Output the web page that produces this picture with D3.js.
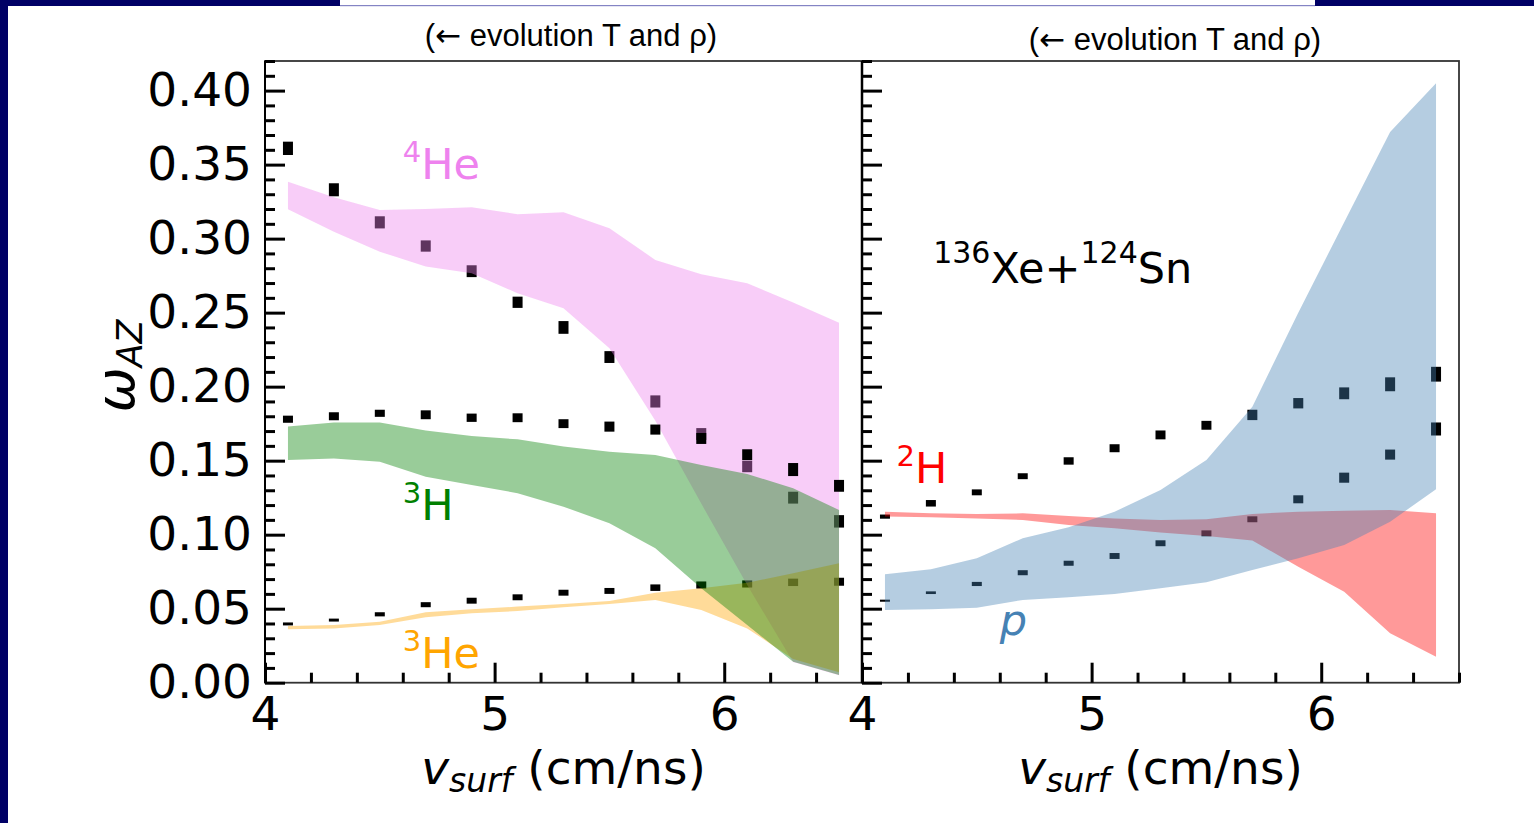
<!DOCTYPE html>
<html><head><meta charset="utf-8">
<script src="https://cdn.jsdelivr.net/npm/d3@7"></script>
<style>html,body{margin:0;padding:0;background:#fff;} svg{display:block;}</style>
</head><body>
<svg id="c" width="1534" height="823"></svg>
<script>
// ---------------- data ----------------
const vsurf = [4.1,4.3,4.5,4.7,4.9,5.1,5.3,5.5,5.7,5.9,6.1,6.3,6.5];

// left panel: experimental points (value, half-height uncertainty)
const he4Val = [0.361,0.333,0.311,0.295,0.278,0.257,0.240,0.220,0.190,0.168,0.146,0.125,0.109];
const he4Err = [0.0045,0.0044,0.0041,0.0038,0.004,0.0038,0.0043,0.004,0.0041,0.004,0.0038,0.004,0.0042];
const h3Val  = [0.178,0.180,0.182,0.181,0.179,0.179,0.175,0.173,0.171,0.165,0.154,0.144,0.133];
const h3Err  = [0.0024,0.0027,0.0024,0.003,0.0028,0.003,0.003,0.0034,0.0034,0.0037,0.0037,0.0044,0.004];
const he3Val = [0.0397,0.0423,0.0462,0.0527,0.0554,0.0577,0.0608,0.062,0.0642,0.066,0.0667,0.0678,0.0682];
const he3Err = [0.001,0.001,0.0014,0.0017,0.002,0.002,0.002,0.002,0.0022,0.0024,0.0024,0.0025,0.0027];

// left panel: model bands
const he4Hi = [0.3385,0.328,0.3194,0.320,0.3212,0.3165,0.3178,0.307,0.2856,0.276,0.2699,0.2568,0.2432];
const he4Lo = [0.3199,0.3047,0.2912,0.2811,0.2766,0.2631,0.253,0.2259,0.177,0.121,0.066,0.014,0.005];
const h3Hi  = [0.173,0.1757,0.1757,0.1703,0.1667,0.1644,0.1595,0.1561,0.1539,0.1471,0.141,0.1313,0.1167];
const h3Lo  = [0.1505,0.1514,0.1493,0.1392,0.1336,0.128,0.1189,0.1077,0.0908,0.0638,0.039,0.0142,0.0052];
const he3Hi = [0.0383,0.039,0.0412,0.0476,0.0496,0.0514,0.0532,0.0552,0.0608,0.0638,0.0676,0.0739,0.0807];
const he3Lo = [0.0361,0.0367,0.039,0.0442,0.0469,0.0484,0.0509,0.0532,0.0559,0.0491,0.0367,0.016,0.007];

// right panel: experimental points
const h2Val = [0.1122,0.1212,0.1286,0.1395,0.1498,0.1584,0.1674,0.1739,0.1809,0.1888,0.1955,0.2016,0.2084];
const h2Err = [0.0014,0.0022,0.002,0.002,0.0025,0.0027,0.003,0.003,0.0035,0.0035,0.004,0.0047,0.005];
const pVal  = [0.0554,0.0608,0.0667,0.0743,0.0807,0.0856,0.0942,0.1009,0.1104,0.1239,0.1385,0.1541,0.1714];
const pErr  = [0.0007,0.0009,0.0014,0.0017,0.0017,0.002,0.002,0.002,0.002,0.0027,0.0034,0.0034,0.0044];

// right panel: model bands
const pHi  = [0.0732,0.0766,0.084,0.0976,0.105,0.1155,0.1302,0.1505,0.1865,0.250,0.311,0.372,0.405];
const pLo  = [0.0491,0.0496,0.0507,0.0559,0.0577,0.0599,0.0638,0.0678,0.0761,0.084,0.093,0.1088,0.1307];
const h2Hi = [0.1155,0.1144,0.114,0.1144,0.1126,0.111,0.1099,0.1104,0.114,0.1155,0.1162,0.1167,0.1144];
const h2Lo = [0.1122,0.1118,0.111,0.1099,0.1066,0.1043,0.1014,0.0991,0.096,0.0784,0.0615,0.0334,0.0176];

// axes ticks
const xMajor = [4,5,6];
const xMinor = [4.2,4.4,4.6,4.8,5.2,5.4,5.6,5.8,6.2,6.4,6.6];
const yMajor = [0,0.05,0.10,0.15,0.20,0.25,0.30,0.35,0.40];
const yMinor = d3.range(0,43).map(i=>i/100).filter(v=>Math.round(v*100)%5!==0);

const titleParts = ["(", "\u2190", " evolution T and \u03c1)"];

// ---------------- drawing ----------------
const svg = d3.select("#c");
const FONT = "'DejaVu Sans', sans-serif";

// frame decoration
svg.append("rect").attr("x",0).attr("y",0).attr("width",8).attr("height",823).attr("fill","#000066");
svg.append("rect").attr("x",0).attr("y",0).attr("width",340).attr("height",6).attr("fill","#000066");
svg.append("rect").attr("x",1315).attr("y",0).attr("width",219).attr("height",6).attr("fill","#000066");
svg.append("rect").attr("x",340).attr("y",5).attr("width",975).attr("height",1.2).attr("fill","#8484c4");

const y = d3.scaleLinear().domain([0,0.42]).range([682.7,61]);
const xL = d3.scaleLinear().domain([4,6.6]).range([265,862]);
const xR = d3.scaleLinear().domain([4,6.6]).range([862,1459]);

function markers(g, x, vals, errs){
  g.selectAll(null).data(vals.map((v,i)=>({x:vsurf[i],v,e:errs[i]}))).enter()
   .append("rect")
   .attr("x",d=>x(d.x)-5).attr("width",10)
   .attr("y",d=>y(d.v+d.e))
   .attr("height",d=>Math.max(y(d.v-d.e)-y(d.v+d.e),2))
   .attr("fill","#000");
}
function band(g, x, lo, hi, color){
  const area = d3.area().x(d=>x(d.x)).y0(d=>y(d.lo)).y1(d=>y(d.hi));
  g.append("path").datum(vsurf.map((v,i)=>({x:v,lo:lo[i],hi:hi[i]})))
   .attr("d",area).attr("fill",color).attr("fill-opacity",0.4);
}

// ---- left panel
const gL = svg.append("g");
markers(gL, xL, he4Val, he4Err);
markers(gL, xL, he3Val, he3Err);
band(gL, xL, he4Lo, he4Hi, "violet");
band(gL, xL, he3Lo, he3Hi, "orange");
markers(gL, xL, h3Val, h3Err);
band(gL, xL, h3Lo, h3Hi, "green");

// ---- right panel
const gR = svg.append("g");
markers(gR, xR, h2Val, h2Err);
markers(gR, xR, pVal, pErr);
band(gR, xR, h2Lo, h2Hi, "red");
band(gR, xR, pLo, pHi, "steelblue");

// ---- spines
function frame(x0,x1){
  svg.append("rect").attr("x",x0).attr("y",y(0.42)).attr("width",x1-x0).attr("height",y(0)-y(0.42))
    .attr("fill","none").attr("stroke","#333").attr("stroke-width",1.8);
}
frame(265,862); frame(862,1459);

// ---- axes
function styleAxis(g){
  g.select(".domain").remove();
  g.selectAll(".tick line").attr("stroke","#000").attr("stroke-width",3);
  g.selectAll(".tick text").attr("font-family",FONT).attr("font-size",47).attr("fill","#000");
}
function xAxes(x){
  const a = svg.append("g").attr("transform",`translate(0,${y(0)})`)
    .call(d3.axisBottom(x).tickValues(xMajor).tickSizeInner(-20).tickSizeOuter(0).tickPadding(14).tickFormat(d3.format("d")));
  styleAxis(a);
  const b = svg.append("g").attr("transform",`translate(0,${y(0)})`)
    .call(d3.axisBottom(x).tickValues(xMinor).tickSizeInner(-10).tickSizeOuter(0).tickFormat(""));
  styleAxis(b);
}
xAxes(xL); xAxes(xR);

function yAxes(x0, labels){
  const a = svg.append("g").attr("transform",`translate(${x0},0)`)
    .call(d3.axisLeft(y).tickValues(yMajor).tickSizeInner(-20).tickSizeOuter(0).tickPadding(13)
      .tickFormat(labels ? d3.format(".2f") : ""));
  styleAxis(a);
  const b = svg.append("g").attr("transform",`translate(${x0},0)`)
    .call(d3.axisLeft(y).tickValues(yMinor).tickSizeInner(-10).tickSizeOuter(0).tickFormat(""));
  styleAxis(b);
}
yAxes(265, true); yAxes(862, false);
// y spines darker
svg.append("line").attr("x1",265).attr("x2",265).attr("y1",y(0.42)).attr("y2",y(0)).attr("stroke","#000").attr("stroke-width",2);
svg.append("line").attr("x1",862).attr("x2",862).attr("y1",y(0.42)).attr("y2",y(0)).attr("stroke","#000").attr("stroke-width",2.5);

// ---- axis labels
function xLabel(cx){
  const t = svg.append("text").attr("x",cx).attr("y",784).attr("text-anchor","middle")
    .attr("font-family",FONT).attr("font-size",47).attr("fill","#000");
  t.append("tspan").attr("font-style","italic").text("v");
  t.append("tspan").attr("font-style","italic").attr("font-size",33).attr("dy",8).text("surf");
  t.append("tspan").attr("dy",-8).text(" (cm/ns)");
}
xLabel((265+862)/2); xLabel((862+1459)/2);

const yl = svg.append("text").attr("transform","translate(134,366) rotate(-90)").attr("text-anchor","middle")
  .attr("font-family",FONT).attr("font-size",54).attr("fill","#000");
yl.append("tspan").attr("font-style","italic").text("\u03c9");
yl.append("tspan").attr("font-style","italic").attr("font-size",35).attr("dy",8).text("AZ");

// ---- titles
function title(cx, by){
  const t = svg.append("text").attr("x",cx).attr("y",by).attr("text-anchor","middle")
    .attr("font-family","'Liberation Sans', Arial, sans-serif").attr("font-size",31).attr("fill","#000");
  t.append("tspan").text(titleParts[0]);
  t.append("tspan").attr("font-family","'DejaVu Sans', sans-serif").attr("font-size",31).text(titleParts[1]);
  t.append("tspan").text(titleParts[2]);
}
title(571, 46);
title(1175, 50);

// ---- annotations
function isoLabel(x, vx, vy, sup, main, color, italic){
  const t = svg.append("text").attr("x",x(vx)).attr("y",y(vy))
    .attr("font-family",FONT).attr("font-size",43).attr("fill",color);
  if(sup){
    t.append("tspan").attr("font-size",29).attr("dy",-17).text(sup);
    t.append("tspan").attr("dy",17).text(main);
  } else {
    t.append("tspan").attr("font-style",italic?"italic":"normal").text(main);
  }
  return t;
}
isoLabel(xL, 4.6, 0.34, "4", "He", "violet");
isoLabel(xL, 4.6, 0.11, "3", "H", "green");
isoLabel(xL, 4.6, 0.01, "3", "He", "orange");
isoLabel(xR, 4.15, 0.135, "2", "H", "red");
isoLabel(xR, 4.6, 0.032, null, "p", "steelblue", true);

const rx = svg.append("text").attr("x",xR(4.31)).attr("y",y(0.27))
  .attr("font-family",FONT).attr("font-size",43).attr("fill","#000");
rx.append("tspan").attr("font-size",30).attr("dy",-20).text("136");
rx.append("tspan").attr("dy",20).text("Xe+");
rx.append("tspan").attr("font-size",30).attr("dy",-20).text("124");
rx.append("tspan").attr("dy",20).text("Sn");
</script>
</body></html>
